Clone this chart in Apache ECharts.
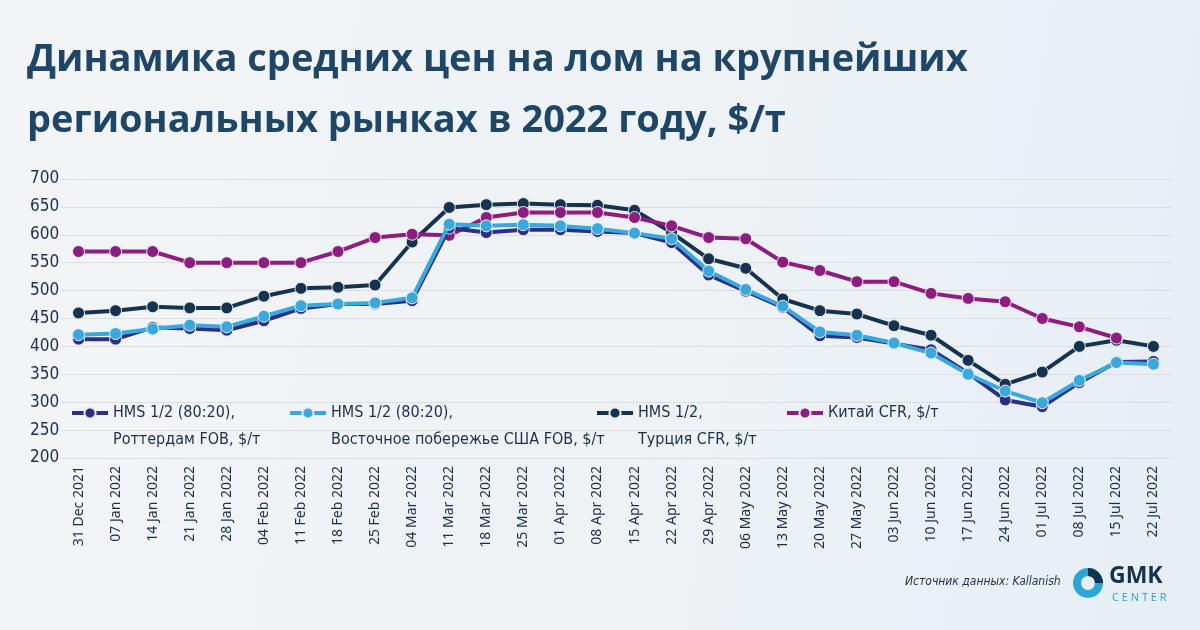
<!DOCTYPE html>
<html>
<head>
<meta charset="utf-8">
<script src="https://cdn.jsdelivr.net/npm/echarts@6/dist/echarts.min.js"></script>
<style>
html,body{margin:0;padding:0;width:1200px;height:630px;overflow:hidden;}
#c{width:1200px;height:630px;background:linear-gradient(100deg,#f3f4f6 0%,#eef2f5 55%,#e6eef5 100%);}
</style>
</head>
<body>
<div id="c"></div>
<script>
const categories = ['31 Dec 2021','07 Jan 2022','14 Jan 2022','21 Jan 2022','28 Jan 2022','04 Feb 2022','11 Feb 2022','18 Feb 2022','25 Feb 2022','04 Mar 2022','11 Mar 2022','18 Mar 2022','25 Mar 2022','01 Apr 2022','08 Apr 2022','15 Apr 2022','22 Apr 2022','29 Apr 2022','06 May 2022','13 May 2022','20 May 2022','27 May 2022','03 Jun 2022','10 Jun 2022','17 Jun 2022','24 Jun 2022','01 Jul 2022','08 Jul 2022','15 Jul 2022','22 Jul 2022'];
const rotterdam = [413,413,434,432,429,446,468,476,476,482,612,604,609,609,606,603,586,528,499,470,419,416,405,394,352,304,292,335,372,373];
const usaEast   = [421,423,431,438,435,454,473,476,478,487,619,616,618,616,611,603,593,535,502,472,426,420,406,388,350,320,299,339,371,368];
const turkey    = [460,464,471,469,469,490,504,506,510,587,649,654,656,654,653,644,604,557,540,485,464,458,437,420,375,332,354,400,411,400];
const china     = [570,570,570,550,550,550,550,570,595,601,599,631,640,640,640,631,616,595,593,551,536,516,516,495,486,480,450,435,415,null];
const yTicks = [200,250,300,350,400,450,500,550,600,650,700];
const seriesNames = ['HMS 1/2 (80:20),\nРоттердам FOB, $/т','HMS 1/2 (80:20),\nВосточное побережье США FOB, $/т','HMS 1/2,\nТурция CFR, $/т','Китай CFR, $/т'];
const colors = ['#2b2f86','#37a9df','#15334f','#8f1d7f'];
const seriesData = [rotterdam, usaEast, turkey, china];

const COND = "'DejaVu Sans Condensed', 'Roboto Condensed', 'Liberation Sans Narrow', Roboto, sans-serif";
const LH = 27;
const chart = echarts.init(document.getElementById('c'), null, {renderer:'canvas'});
const legendPos = [65, 283, 590, 780];
const legends = seriesNames.map((n,i)=>{
  const two = n.indexOf('\n') >= 0;
  return {
    data:[n], left:legendPos[i], top: (two ? 413 - 1.5*LH : 413 - LH/2) - 5,
    itemWidth:36, itemHeight:14, itemGap:6,
    formatter: two ? (name => '\n' + name) : (name => name),
    lineStyle:{width:4},
    textStyle:{fontFamily:COND, fontSize:16, color:'#1b2f4b', lineHeight:LH},
    selectedMode:false
  };
});
chart.setOption({
  animation:false,
  title:{
    text:'Динамика средних цен на лом на крупнейших\nрегиональных рынках в 2022 году, $/т',
    left:22, top:25,
    textStyle:{fontFamily:'Open Sans', fontWeight:'bold', fontSize:38, lineHeight:61, color:'#1e4667'}
  },
  legend: legends,
  grid:{left:60, right:28, top:179, bottom:172, containLabel:false},
  xAxis:{
    type:'category', data:categories, boundaryGap:true,
    axisLine:{show:false}, axisTick:{show:false},
    axisLabel:{rotate:90, interval:0, fontFamily:'Noto Sans', fontSize:14, color:'#1b2f4b', margin:8}
  },
  yAxis:{
    type:'value', min:200, max:700, interval:50,
    axisLine:{show:false}, axisTick:{show:false},
    axisLabel:{fontFamily:COND, fontSize:17, color:'#1b2f4b', align:'left', margin:30,
      formatter:v=>yTicks.includes(v)?String(v):''},
    splitLine:{lineStyle:{color:'#dadde2', width:1}}
  },
  series: seriesData.map((d,i)=>({
    name:seriesNames[i], type:'line', data:d,
    symbol:'circle', symbolSize:12,
    lineStyle:{width:4, color:colors[i]},
    itemStyle:{color:colors[i], borderColor:'#e8edf2', borderWidth:1},
    z: i===1 ? 4 : (i===0 ? 3 : 2)
  })),
  graphic:[
    {type:'text', left:905, top:576, style:{text:'Источник данных: Kallanish', font:"italic 12px " + COND, fill:'#1b2f4b'}},
    {type:'sector', shape:{cx:1088, cy:583, r:15, r0:7, startAngle:0, endAngle:Math.PI*2}, style:{fill:'#2aa6d8'}},
    {type:'sector', shape:{cx:1088, cy:583, r:15, r0:7, startAngle:-Math.PI/2, endAngle:0}, style:{fill:'#15334f'}},
    {type:'text', left:1109, top:565, style:{text:'GMK', font:'bold 23px "Open Sans"', fill:'#15334f'}},
    {type:'text', left:1112, top:592, style:{text:'C E N T E R', font:'11px "Open Sans"', fill:'#2aa6d8'}}
  ]
});
</script>
</body>
</html>
